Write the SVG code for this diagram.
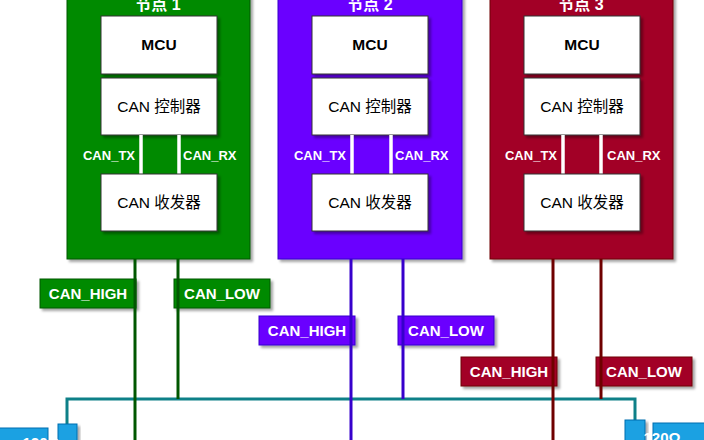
<svg xmlns="http://www.w3.org/2000/svg" width="704" height="440" viewBox="0 0 704 440">
<defs>
<filter id="sh" x="-10%" y="-10%" width="130%" height="130%">
<feDropShadow dx="2.5" dy="2.5" stdDeviation="1.2" flood-color="#000" flood-opacity="0.35"/>
</filter>
</defs>
<style>
text{font-family:"Liberation Sans","Noto Sans CJK SC",sans-serif}
.inner{fill:#fff;stroke:#333;stroke-width:1;filter:url(#sh)}
.it{font-size:15.5px;fill:#000;text-anchor:middle}
.title{font-size:16px;font-weight:bold;fill:#fff;text-anchor:middle}
.sig{font-size:13px;font-weight:bold;fill:#fff}
.wire{stroke:#fff;stroke-width:3.5;fill:none}
.lbl{font-size:15px;font-weight:bold;fill:#fff;text-anchor:middle}
.g{fill:#008a00;stroke:#005700}
.v{fill:#6a00ff;stroke:#3700cc}
.r{fill:#a20025;stroke:#6f0000}
.res{fill:#1ba1e2;stroke:#006eaf;stroke-width:1}
</style>

<g id="node1">
<rect x="67" y="-10" width="183" height="269" class="g" filter="url(#sh)"/>
<text x="158" y="10" class="title">节点 1</text>
<rect x="101" y="16" width="116" height="58" class="inner"/>
<text x="159" y="50" class="it" font-weight="bold">MCU</text>
<rect x="101" y="78" width="116" height="57" class="inner"/>
<text x="159" y="112" class="it">CAN 控制器</text>
<line x1="141" y1="135" x2="141" y2="174" class="wire"/>
<line x1="179" y1="135" x2="179" y2="174" class="wire"/>
<text x="135" y="160" class="sig" text-anchor="end">CAN_TX</text>
<text x="183" y="160" class="sig">CAN_RX</text>
<rect x="101" y="174" width="116" height="57" class="inner"/>
<text x="159" y="208" class="it">CAN 收发器</text>
</g>

<g id="node2">
<rect x="278" y="-10" width="184" height="269" class="v" filter="url(#sh)"/>
<text x="370" y="10" class="title">节点 2</text>
<rect x="312" y="16" width="116" height="58" class="inner"/>
<text x="370" y="50" class="it" font-weight="bold">MCU</text>
<rect x="312" y="78" width="116" height="57" class="inner"/>
<text x="370" y="112" class="it">CAN 控制器</text>
<line x1="352" y1="135" x2="352" y2="174" class="wire"/>
<line x1="391" y1="135" x2="391" y2="174" class="wire"/>
<text x="346" y="160" class="sig" text-anchor="end">CAN_TX</text>
<text x="395" y="160" class="sig">CAN_RX</text>
<rect x="312" y="174" width="116" height="57" class="inner"/>
<text x="370" y="208" class="it">CAN 收发器</text>
</g>

<g id="node3">
<rect x="490" y="-10" width="183" height="269" class="r" filter="url(#sh)"/>
<text x="581" y="10" class="title">节点 3</text>
<rect x="524" y="16" width="116" height="58" class="inner"/>
<text x="582" y="50" class="it" font-weight="bold">MCU</text>
<rect x="524" y="78" width="116" height="57" class="inner"/>
<text x="582" y="112" class="it">CAN 控制器</text>
<line x1="563" y1="135" x2="563" y2="174" class="wire"/>
<line x1="601" y1="135" x2="601" y2="174" class="wire"/>
<text x="557" y="160" class="sig" text-anchor="end">CAN_TX</text>
<text x="607" y="160" class="sig">CAN_RX</text>
<rect x="524" y="174" width="116" height="57" class="inner"/>
<text x="582" y="208" class="it">CAN 收发器</text>
</g>

<g id="labels">
<rect x="40" y="279" width="96" height="29" class="g" filter="url(#sh)"/>
<text x="88" y="299" class="lbl">CAN_HIGH</text>
<rect x="174" y="279" width="96" height="29" class="g" filter="url(#sh)"/>
<text x="222" y="299" class="lbl">CAN_LOW</text>
<rect x="259" y="316" width="96" height="29" class="v" filter="url(#sh)"/>
<text x="307" y="336" class="lbl">CAN_HIGH</text>
<rect x="398" y="316" width="96" height="29" class="v" filter="url(#sh)"/>
<text x="446" y="336" class="lbl">CAN_LOW</text>
<rect x="461" y="357" width="96" height="29" class="r" filter="url(#sh)"/>
<text x="509" y="377" class="lbl">CAN_HIGH</text>
<rect x="596" y="357" width="96" height="29" class="r" filter="url(#sh)"/>
<text x="644" y="377" class="lbl">CAN_LOW</text>
</g>

<g id="connectors" fill="none" stroke-width="3">
<path d="M67 424 V399 H635 V420" stroke="#0e8088"/>
<line x1="135" y1="259" x2="135" y2="440" stroke="#005700"/>
<line x1="178" y1="259" x2="178" y2="399" stroke="#005700"/>
<line x1="351" y1="259" x2="351" y2="440" stroke="#3700cc"/>
<line x1="403" y1="259" x2="403" y2="399" stroke="#3700cc"/>
<line x1="553" y1="259" x2="553" y2="440" stroke="#6f0000"/>
<line x1="601" y1="259" x2="601" y2="399" stroke="#6f0000"/>
</g>

<g id="resistor-left">
<rect x="58" y="424" width="19" height="30" class="res" filter="url(#sh)"/>
<rect x="-10" y="428" width="58" height="24" class="res"/>
<text x="41" y="448" class="lbl" text-anchor="end">120Ω</text>
</g>
<g id="resistor-right">
<rect x="625" y="420" width="20" height="30" class="res" filter="url(#sh)"/>
<rect x="653" y="423" width="60" height="24" class="res"/>
<text x="662" y="443" class="lbl" text-anchor="start">120Ω</text>
</g>
</svg>
